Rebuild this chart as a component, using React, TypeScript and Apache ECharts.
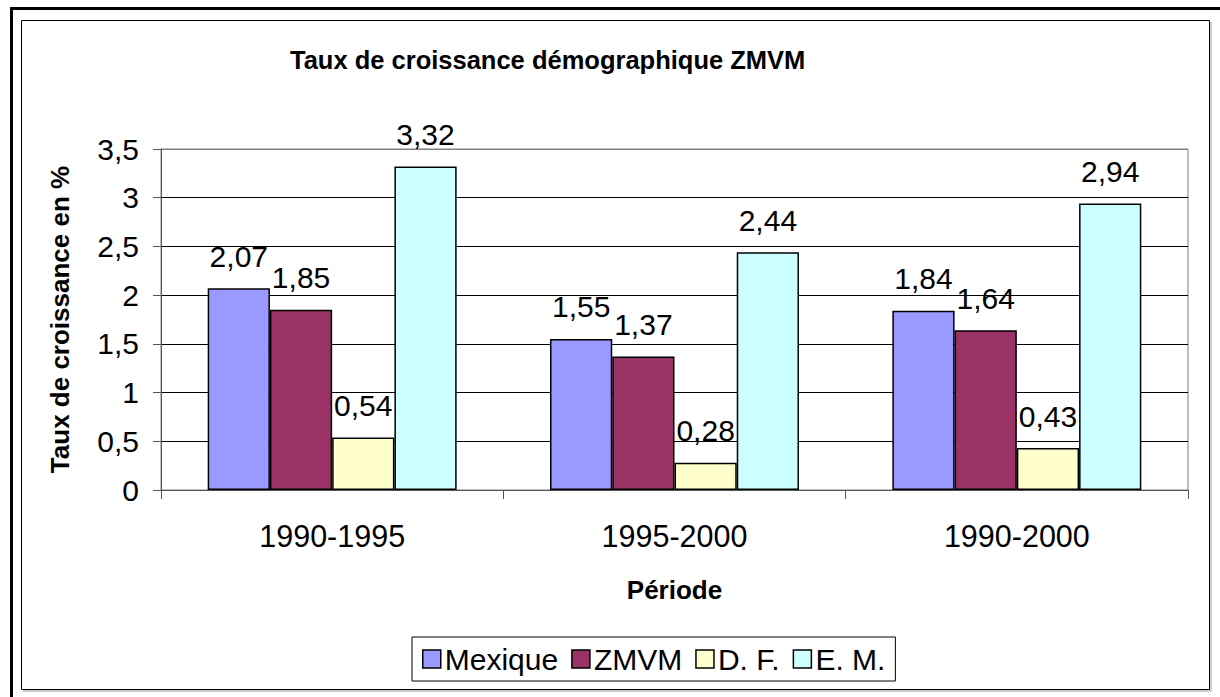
import React, { useEffect, useRef } from "react";
import * as echarts from "echarts";

const categories = ["1990-1995", "1995-2000", "1990-2000"];
const seriesNames = ["Mexique", "ZMVM", "D. F.", "E. M."];
const mexique = [2.07, 1.55, 1.84];
const zmvm = [1.85, 1.37, 1.64];
const df = [0.54, 0.28, 0.43];
const em = [3.32, 2.44, 2.94];
const seriesColors = ["#9999FF", "#993366", "#FFFFCC", "#CCFFFF"];
const titleText = "Taux de croissance démographique ZMVM";
const yAxisName = "Taux de croissance en %";
const xAxisName = "Période";

const FONT = "'Liberation Sans', Arial, sans-serif";
const fmt = (v: number) => String(v).replace(".", ",");

export default function App() {
  const ref = useRef<HTMLDivElement>(null);
  useEffect(() => {
    if (!ref.current) return;
    const chart = echarts.init(ref.current, null, { renderer: "svg" });
    const values = [mexique, zmvm, df, em];
    chart.setOption({
      animation: false,
      backgroundColor: "#fff",
      textStyle: { fontFamily: FONT },
      title: {
        text: titleText,
        left: 285,
        top: 42,
        textStyle: { fontFamily: FONT, fontSize: 25.5, fontWeight: "bold", color: "#000" },
      },
      legend: {
        data: seriesNames,
        left: 412,
        top: 637,
        orient: "horizontal",
        itemWidth: 18,
        itemHeight: 18,
        itemGap: 13,
        padding: [7, 10, 7, 10],
        borderColor: "#000",
        borderWidth: 1,
        icon: "rect",
        itemStyle: { borderColor: "#000", borderWidth: 1.5 },
        textStyle: { fontFamily: FONT, fontSize: 30, color: "#000", lineHeight: 30, padding: [0, 0, 0, -1] },
      },
      grid: {
        left: 161,
        top: 149,
        right: 32,
        bottom: 207,
        show: true,
        borderColor: "#808080",
        borderWidth: 1,
        containLabel: false,
      },
      xAxis: {
        type: "category",
        data: categories,
        name: xAxisName,
        nameLocation: "middle",
        nameGap: 87,
        nameTextStyle: { fontFamily: FONT, fontSize: 26, fontWeight: "bold", color: "#000" },
        axisLine: { lineStyle: { color: "#555", width: 1 } },
        axisTick: { show: true, length: 9, alignWithLabel: false, lineStyle: { color: "#555" } },
        axisLabel: { margin: 30, fontFamily: FONT, fontSize: 30.5, color: "#000" },
      },
      yAxis: {
        type: "value",
        min: 0,
        max: 3.5,
        interval: 0.5,
        name: yAxisName,
        nameLocation: "middle",
        nameGap: 88,
        nameTextStyle: { fontFamily: FONT, fontSize: 26, fontWeight: "bold", color: "#000" },
        axisLine: { show: true, lineStyle: { color: "#555", width: 1 } },
        axisTick: { show: true, length: 8, lineStyle: { color: "#555" } },
        axisLabel: { margin: 22, fontFamily: FONT, fontSize: 30, color: "#000", formatter: (v: number) => fmt(v) },
        splitLine: {
          show: true,
          lineStyle: { color: ["#000", "#000", "#000", "#000", "#000", "#000", "#000", "#808080"], width: 1 },
        },
      },
      series: seriesNames.map((name, i) => ({
        name,
        type: "bar",
        data: values[i],
        barGap: "0%",
        barCategoryGap: "27.27%",
        itemStyle: { color: seriesColors[i], borderColor: "#000", borderWidth: 1.5 },
        label: {
          show: true,
          position: "top",
          distance: 17,
          fontFamily: FONT,
          fontSize: 30,
          color: "#000",
          formatter: (p: any) => fmt(p.value),
        },
      })),
      graphic: [
        { type: "line", shape: { x1: 10, y1: 8.5, x2: 1220, y2: 8.5 }, style: { stroke: "#000", lineWidth: 3 } },
        { type: "line", shape: { x1: 11.5, y1: 7, x2: 11.5, y2: 697 }, style: { stroke: "#000", lineWidth: 3 } },
        { type: "line", shape: { x1: 23, y1: 691, x2: 1211, y2: 691 }, style: { stroke: "#999", lineWidth: 1 } },
        { type: "line", shape: { x1: 1211, y1: 22, x2: 1211, y2: 691 }, style: { stroke: "#999", lineWidth: 1 } },
        { type: "rect", shape: { x: 21.5, y: 20.5, width: 1188, height: 669 }, style: { fill: "none", stroke: "#000", lineWidth: 1 } },
      ],
    });
    return () => chart.dispose();
  }, []);
  return (
    <div
      ref={ref}
      style={{ position: "fixed", left: 0, top: 0, width: 1220, height: 697, background: "#fff" }}
    />
  );
}
